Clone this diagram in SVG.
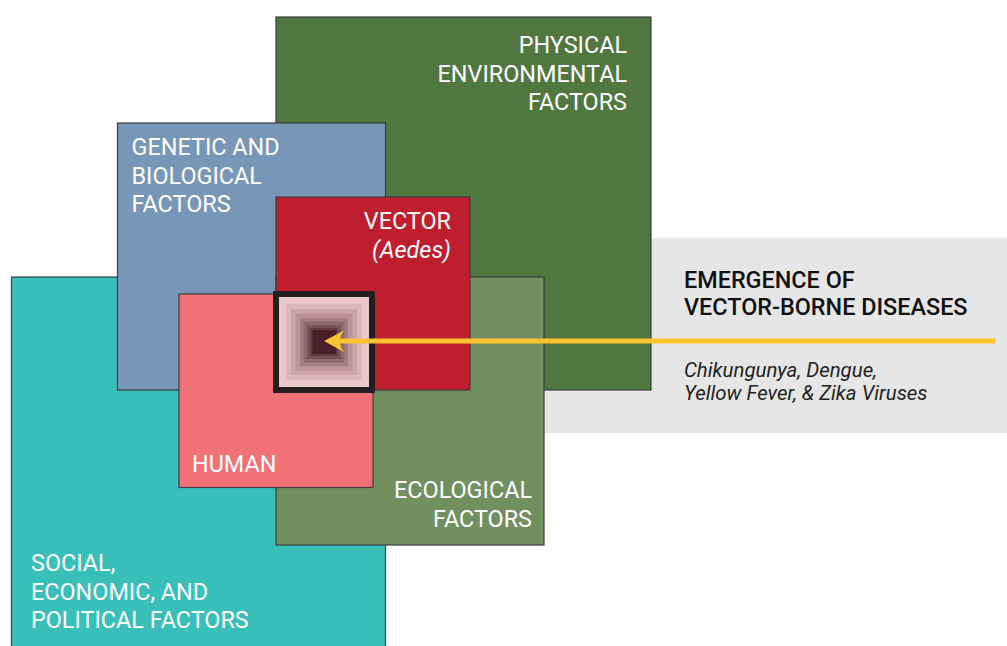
<svg xmlns="http://www.w3.org/2000/svg" width="1007" height="646" viewBox="0 0 1007 646">
<defs>
<style>
.box{stroke:#3d3d3d;stroke-width:1.2}
.lbl{font-family:Roboto,"Liberation Sans",sans-serif;font-size:23.4px;fill:#ffffff}
.end{text-anchor:end}
.head{font-family:Roboto,"Liberation Sans",sans-serif;font-size:23.4px;font-weight:500;fill:#111111}
.sub{font-family:Roboto,"Liberation Sans",sans-serif;font-size:20.4px;font-style:italic;fill:#222222}
</style>
</defs>
<rect width="1007" height="646" fill="#ffffff"/>
<g id="panel">
<rect x="540" y="238" width="467" height="195" fill="#e6e6e6"/>
<text class="head" x="684" y="288">EMERGENCE OF</text>
<text class="head" x="684" y="315">VECTOR-BORNE DISEASES</text>
<text class="sub" x="684" y="377">Chikungunya, Dengue,</text>
<text class="sub" x="684" y="400">Yellow Fever, &amp; Zika Viruses</text>
</g>
<g id="physical">
<rect class="box" x="276" y="17" width="375" height="373" fill="#4f773f"/>
<text class="lbl end" x="627" y="53">PHYSICAL</text>
<text class="lbl end" x="627" y="81.5">ENVIRONMENTAL</text>
<text class="lbl end" x="627" y="110">FACTORS</text>
</g>
<g id="social">
<rect class="box" x="11.5" y="277" width="374" height="380" fill="#38bfba"/>
<text class="lbl" x="31" y="571">SOCIAL,</text>
<text class="lbl" x="31" y="600">ECONOMIC, AND</text>
<text class="lbl" x="31" y="628">POLITICAL FACTORS</text>
</g>
<g id="genetic">
<rect class="box" x="117.5" y="123" width="268" height="267" fill="#7796b8"/>
<text class="lbl" x="131.5" y="154.5">GENETIC AND</text>
<text class="lbl" x="131.5" y="183.5">BIOLOGICAL</text>
<text class="lbl" x="131.5" y="212">FACTORS</text>
</g>
<g id="ecological">
<rect class="box" x="276" y="277" width="268" height="268" fill="#718f5f"/>
<text class="lbl end" x="532" y="498">ECOLOGICAL</text>
<text class="lbl end" x="532" y="527">FACTORS</text>
</g>
<g id="vector">
<rect class="box" x="276" y="197" width="194" height="193" fill="#be1e2d"/>
<text class="lbl end" x="451" y="229">VECTOR</text>
<text class="lbl end" x="451" y="257.5" font-style="italic">(Aedes)</text>
</g>
<g id="human">
<rect class="box" x="179" y="294" width="194" height="193.5" fill="#f07277"/>
<text class="lbl" x="192" y="472">HUMAN</text>
</g>
<g id="core">
<rect x="276" y="294" width="96" height="96" fill="none" stroke="#231f20" stroke-width="6"/>
<rect x="279" y="297" width="90" height="90" fill="#e9c7ca"/>
<rect x="286" y="304" width="76" height="76" fill="#dbb6ba"/>
<rect x="291" y="309" width="66" height="66" fill="#cca4a9"/>
<rect x="295.5" y="313.5" width="57" height="57" fill="#bb9298"/>
<rect x="300" y="318" width="48" height="48" fill="#a67e85"/>
<rect x="303.5" y="321.5" width="41" height="41" fill="#8f6870"/>
<rect x="307" y="325" width="34" height="34" fill="#77515a"/>
<rect x="310" y="328" width="28" height="28" fill="#613b45"/>
<rect x="312.5" y="330" width="23.5" height="24" fill="#4b1f29"/>
</g>
<g id="connectors">
<line x1="338" y1="341" x2="995" y2="341" stroke="#fcc331" stroke-width="5"/>
<path d="M324,341 L344,330.5 Q336,341 344,352 Z" fill="#fcc331"/>
</g>
</svg>
